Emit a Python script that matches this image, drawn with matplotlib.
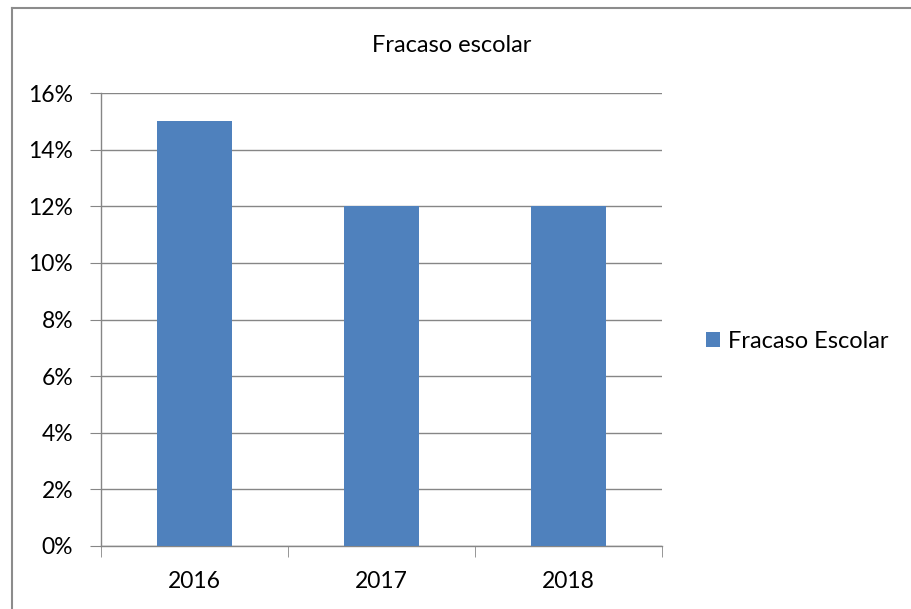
import matplotlib
matplotlib.use('Agg')
import matplotlib.pyplot as plt
from matplotlib.lines import Line2D
from matplotlib.patches import Patch
from matplotlib.ticker import FuncFormatter

years = ['2016', '2017', '2018']
fracaso = [0.15, 0.12, 0.12]
y_ticks = [0, 0.02, 0.04, 0.06, 0.08, 0.10, 0.12, 0.14, 0.16]

BAR_COLOR = '#4F81BD'
GRID_COLOR = '#868686'

plt.rcParams['font.family'] = ['Lato', 'DejaVu Sans']

W, H = 912, 609
fig = plt.figure(figsize=(W / 100, H / 100), dpi=100)

# marco exterior: solo arriba e izquierda, el resto queda fuera de la imagen
fx, fy = 12 / W, 1 - 8 / H
fig.lines.append(Line2D([fx, 1.0], [fy, fy], transform=fig.transFigure,
                        color='#8c8c8c', linewidth=1.5))
fig.lines.append(Line2D([fx, fx], [0.0, fy], transform=fig.transFigure,
                        color='#8c8c8c', linewidth=1.5))

ax = fig.add_axes([101 / W, 1 - 546 / H, (662 - 101) / W, (546 - 93) / H])
x = range(len(years))
ax.bar(x, fracaso, width=0.4, color=BAR_COLOR, zorder=3, label='Fracaso Escolar')

ax.set_xlim(-0.5, len(years) - 0.5)
ax.set_ylim(0, 0.16)
ax.set_yticks(y_ticks)
ax.yaxis.set_major_formatter(FuncFormatter(lambda v, p: f"{v * 100:.0f}%"))
ax.set_xticks(x)
ax.set_xticklabels(years)
ax.set_xticks([-0.5, 0.5, 1.5, 2.5], minor=True)

ax.grid(axis='y', color=GRID_COLOR, linewidth=1, zorder=0)
for s in ['top', 'right']:
    ax.spines[s].set_visible(False)
for s in ['left', 'bottom']:
    ax.spines[s].set_color(GRID_COLOR)
    ax.spines[s].set_linewidth(1)

ax.tick_params(axis='y', length=8, color=GRID_COLOR, labelsize=16.5, pad=12)
ax.tick_params(axis='x', which='major', length=0, labelsize=16.5, pad=18)
ax.tick_params(axis='x', which='minor', length=8, color=GRID_COLOR)

fig.text(452 / W, 1 - 46 / H, 'Fracaso escolar', ha='center', va='center', fontsize=17)

handles = [Patch(facecolor=BAR_COLOR, label='Fracaso Escolar')]
fig.legend(handles=handles, loc='center left', bbox_to_anchor=(706 / W, 1 - 341 / H),
           frameon=False, fontsize=17, handlelength=0.6, handleheight=0.6,
           handletextpad=0.35, borderpad=0, borderaxespad=0)

fig.savefig('out.png', dpi=100)
